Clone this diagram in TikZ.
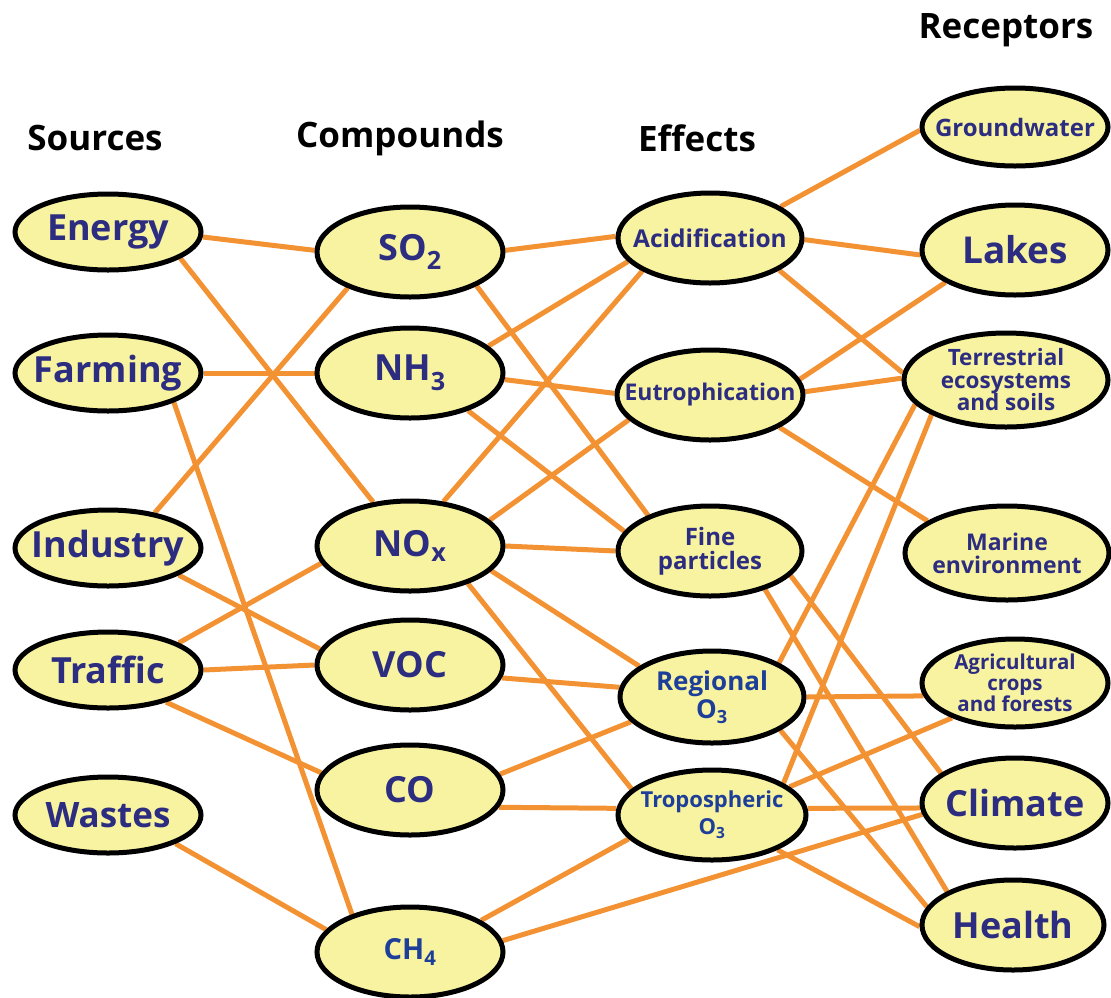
\documentclass[tikz,border=0pt]{standalone}
\usepackage{fontspec}
\setmainfont{Open Sans}
\usetikzlibrary{shapes.geometric,backgrounds}
\definecolor{fillY}{HTML}{F7F3A1}
\definecolor{lineO}{HTML}{F39233}
\definecolor{tblue}{HTML}{2C2C80}
\definecolor{tblue2}{HTML}{1E3F99}
\newcommand\fs[1]{\fontsize{#1}{#1}\selectfont}
\newcommand\blob[7]{\node[blob,minimum width=#4pt,minimum height=#5pt] (#1) at (#2,#3) {};
  \node[txt,#6] at (#1) {#7};}
\begin{document}
\begin{tikzpicture}[x=1pt,y=-1pt,
  blob/.style={ellipse, draw=black, line width=5pt, fill=fillY, inner sep=0pt},
  txt/.style={text=tblue, align=center, inner sep=0pt},
  conn/.style={draw=lineO, line width=5pt},
  hdr/.style={font=\bfseries\fs{35}, text=black, inner sep=0pt}]
\useasboundingbox (0,0) rectangle (1111,997);
% headers
\node[hdr] (hsrc) at (95,138) {Sources};
\node[hdr] (hcmp) at (400,138) {Compounds};
\node[hdr] (heff) at (697,138) {Effects};
\node[hdr] (hrec) at (1006,30) {Receptors};
% sources
\blob{energy}{108}{232}{186}{76}{font=\bfseries\fs{36}}{Energy}
\blob{farming}{108}{373}{186}{76}{font=\bfseries\fs{36}}{Farming}
\blob{industry}{108}{548}{186}{76}{font=\bfseries\fs{36}}{Industry}
\blob{traffic}{108}{670}{186}{76}{font=\bfseries\fs{36}}{Traffic}
\blob{wastes}{108}{815}{186}{76}{font=\bfseries\fs{35}}{Wastes}
% compounds
\blob{so2}{410}{252}{186}{90}{font=\bfseries\fs{36}}{SO\textsubscript{2}}
\blob{nh3}{410}{373}{186}{90}{font=\bfseries\fs{36}}{NH\textsubscript{3}}
\blob{nox}{410}{546}{186}{90}{font=\bfseries\fs{36}}{NO\textsubscript{x}}
\blob{voc}{410}{665}{186}{90}{font=\bfseries\fs{36}}{VOC}
\blob{co}{410}{790}{186}{90}{font=\bfseries\fs{36}}{CO}
\blob{ch4}{410}{952}{186}{90}{font=\bfseries\fs{29},text=tblue2}{CH\textsubscript{4}}
% effects
\blob{acid}{710}{238}{184}{90}{font=\bfseries\fs{24.5}}{Acidification}
\blob{eutro}{710}{395}{186}{90}{font=\bfseries\fs{23}}{Eutrophication}
\blob{fine}{710}{551}{184}{90}{font=\bfseries\fs{24}}{Fine\\particles}
\blob{regional}{712}{697}{184}{92}{font=\bfseries\fs{26},text=tblue2}{Regional\\[2pt]O\textsubscript{3}}
\blob{trop}{712}{815}{188}{90}{font=\bfseries\fs{22},text=tblue2}{Tropospheric\\[5pt]O\textsubscript{3}}
% receptors
\blob{gw}{1015}{127}{186}{78}{font=\bfseries\fs{24}}{Groundwater}
\blob{lakes}{1015}{250}{186}{90}{font=\bfseries\fs{37}}{Lakes}
\blob{terr}{1006}{380}{204}{94}{font=\bfseries\fs{22.5}}{Terrestrial\\ecosystems\\and soils}
\blob{marine}{1007}{553}{204}{94}{font=\bfseries\fs{23}}{Marine\\environment}
\blob{agri}{1015}{683}{186}{88}{font=\bfseries\fs{20.5}}{Agricultural\\crops\\and forests}
\blob{climate}{1015}{803}{186}{90}{font=\bfseries\fs{36}}{Climate}
\blob{health}{1013}{925}{182}{90}{font=\bfseries\fs{36}}{Health}
\begin{pgfonlayer}{background}
\draw[conn] (energy.-3) -- (so2.179);
\draw[conn] (energy.-20) -- (nox.130);
\draw[conn] (farming.0) -- (nh3.180);
\draw[conn] (farming.-24) -- (ch4.147);
\draw[conn] (industry.37) -- (so2.210);
\draw[conn] (industry.-21) -- (voc.170);
\draw[conn] (traffic.21) -- (nox.191);
\draw[conn] (traffic.0) -- (voc.180);
\draw[conn] (traffic.-29) -- (co.169);
\draw[conn] (wastes.-23) -- (ch4.165);
\draw[conn] (so2.1) -- (acid.179);
\draw[conn] (so2.-27) -- (fine.150);
\draw[conn] (nh3.19) -- (acid.196);
\draw[conn] (nh3.-4) -- (eutro.179);
\draw[conn] (nh3.-33) -- (fine.167);
\draw[conn] (nox.53) -- (acid.206);
\draw[conn] (nox.18) -- (eutro.197);
\draw[conn] (nox.0) -- (fine.180);
\draw[conn] (nox.-17) -- (regional.157);
\draw[conn] (nox.-33) -- (trop.162);
\draw[conn] (voc.-8) -- (regional.174);
\draw[conn] (co.10) -- (regional.197);
\draw[conn] (co.-11) -- (trop.176);
\draw[conn] (ch4.24) -- (trop.196);
\draw[conn] (ch4.7) -- (climate.187);
\draw[conn] (acid.24) -- (gw.182);
\draw[conn] (acid.-1) -- (lakes.183);
\draw[conn] (acid.-25) -- (terr.176);
\draw[conn] (eutro.10) -- (lakes.205);
\draw[conn] (eutro.2) -- (terr.179);
\draw[conn] (eutro.-25) -- (marine.158);
\draw[conn] (fine.-17) -- (climate.158);
\draw[conn] (fine.-35) -- (health.153);
\draw[conn] (regional.27) -- (terr.195);
\draw[conn] (trop.24) -- (terr.205);
\draw[conn] (regional.0) -- (agri.188);
\draw[conn] (regional.-26) -- (health.168);
\draw[conn] (trop.20) -- (agri.209);
\draw[conn] (trop.4) -- (climate.183);
\draw[conn] (trop.-28) -- (health.181);
\end{pgfonlayer}
\end{tikzpicture}
\end{document}
